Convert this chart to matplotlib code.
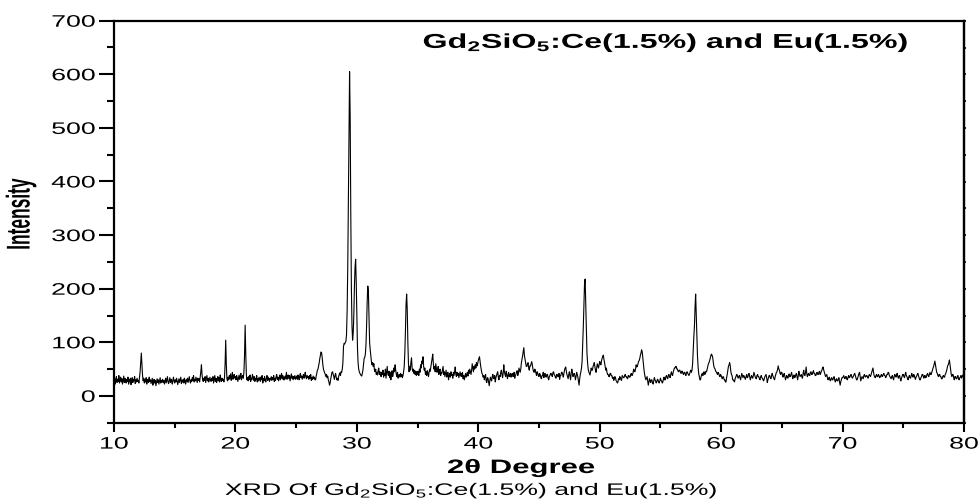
import numpy as np
import matplotlib
matplotlib.use("Agg")
import matplotlib.pyplot as plt
from matplotlib.patheffects import AbstractPathEffect
from matplotlib.transforms import Affine2D
from matplotlib.ticker import MultipleLocator, FixedLocator

# ---------------- data ----------------
scan_step = 0.05       # degrees 2-theta between points
# intensity per whole degree of 2-theta, points every 0.05 degree
intensity_by_degree = {
    10: [28, 34, 22, 30, 36, 25, 31, 27, 38, 24, 30, 35, 26, 32, 22, 29, 37, 25, 33, 28],
    11: [24, 31, 27, 35, 22, 30, 26, 33, 21, 29, 34, 25, 31, 28, 36, 23, 30, 26, 33, 27],
    12: [29, 24, 35, 45, 62, 80, 58, 38, 28, 33, 24, 30, 26, 34, 22, 29, 31, 25, 35, 27],
    13: [30, 23, 28, 33, 20, 27, 31, 24, 29, 19, 26, 32, 25, 30, 22, 28, 34, 24, 29, 26],
    14: [31, 25, 29, 22, 27, 33, 24, 30, 36, 26, 23, 29, 34, 25, 31, 28, 22, 30, 35, 27],
    15: [24, 30, 26, 33, 28, 21, 27, 32, 25, 30, 35, 23, 29, 26, 31, 24, 33, 28, 22, 30],
    16: [27, 33, 25, 31, 36, 28, 24, 30, 27, 34, 29, 38, 26, 31, 28, 35, 30, 25, 33, 29],
    17: [32, 26, 35, 45, 58, 40, 30, 27, 33, 29, 36, 25, 31, 38, 28, 33, 26, 30, 35, 29],
    18: [27, 33, 29, 36, 24, 31, 38, 27, 33, 25, 30, 36, 28, 34, 26, 39, 30, 27, 33, 29],
    19: [31, 26, 34, 60, 104, 58, 32, 28, 35, 30, 38, 33, 41, 29, 35, 44, 31, 36, 40, 33],
    20: [36, 30, 38, 34, 27, 33, 39, 31, 36, 42, 30, 35, 38, 33, 45, 75, 132, 80, 40, 30],
    21: [34, 28, 36, 31, 39, 27, 33, 30, 40, 35, 29, 36, 27, 33, 30, 38, 26, 32, 28, 35],
    22: [31, 27, 35, 30, 38, 24, 32, 28, 36, 30, 26, 33, 38, 29, 35, 31, 27, 33, 30, 36],
    23: [29, 34, 31, 38, 27, 33, 29, 36, 40, 31, 35, 28, 33, 39, 30, 36, 42, 32, 38, 30],
    24: [35, 30, 37, 33, 44, 31, 36, 39, 32, 38, 28, 35, 41, 33, 37, 30, 36, 32, 38, 31],
    25: [34, 37, 31, 39, 35, 30, 38, 42, 34, 37, 31, 36, 40, 33, 38, 44, 35, 32, 38, 34],
    26: [36, 31, 38, 33, 40, 29, 34, 31, 37, 32, 35, 30, 30, 37, 42, 48, 50, 56, 62, 70],
    27: [76, 82, 80, 70, 58, 50, 46, 43, 40, 36, 40, 34, 37, 30, 26, 20, 24, 32, 38, 44],
    28: [45, 40, 36, 31, 38, 42, 35, 30, 33, 29, 36, 40, 43, 38, 45, 44, 50, 62, 92, 98],
    29: [97, 100, 102, 115, 160, 240, 350, 480, 605, 520, 340, 200, 130, 104, 118, 150, 205, 240, 255, 210],
    30: [150, 90, 62, 50, 45, 42, 40, 38, 37, 42, 48, 60, 70, 72, 78, 95, 130, 175, 205, 195],
    31: [150, 100, 86, 75, 64, 58, 62, 55, 60, 48, 45, 50, 40, 44, 39, 47, 52, 40, 45, 38],
    32: [36, 44, 40, 48, 35, 42, 38, 50, 33, 45, 55, 41, 38, 46, 34, 44, 30, 40, 47, 36],
    33: [42, 52, 45, 58, 48, 40, 36, 44, 33, 38, 40, 35, 42, 36, 40, 34, 38, 45, 55, 80],
    34: [120, 170, 190, 160, 100, 60, 45, 55, 48, 62, 71, 52, 46, 50, 42, 48, 40, 46, 38, 45],
    35: [40, 46, 38, 50, 44, 58, 52, 65, 60, 73, 55, 48, 52, 40, 45, 38, 47, 42, 36, 44],
    36: [50, 46, 55, 62, 70, 78, 60, 50, 55, 45, 60, 52, 44, 48, 55, 40, 46, 50, 38, 44],
    37: [42, 48, 55, 40, 45, 36, 42, 48, 35, 40, 44, 30, 38, 42, 35, 45, 38, 40, 33, 44],
    38: [38, 45, 54, 40, 36, 44, 38, 42, 34, 40, 45, 37, 42, 36, 44, 32, 38, 30, 36, 42],
    39: [35, 40, 44, 37, 48, 42, 50, 45, 40, 48, 60, 52, 45, 55, 50, 58, 52, 62, 56, 60],
    40: [66, 70, 73, 64, 55, 48, 42, 40, 35, 38, 30, 36, 40, 28, 25, 34, 33, 26, 19, 28],
    41: [35, 30, 28, 36, 40, 33, 32, 38, 26, 34, 38, 42, 45, 35, 30, 38, 36, 44, 48, 40],
    42: [34, 42, 58, 45, 40, 36, 46, 40, 32, 38, 44, 36, 38, 42, 35, 40, 42, 36, 37, 44],
    43: [33, 38, 40, 45, 47, 38, 42, 52, 48, 44, 50, 62, 68, 75, 82, 90, 75, 68, 60, 55],
    44: [55, 60, 62, 52, 48, 56, 56, 60, 64, 58, 50, 46, 44, 50, 48, 42, 38, 45, 42, 38],
    45: [36, 42, 40, 34, 32, 38, 38, 44, 34, 40, 42, 36, 35, 40, 40, 33, 30, 36, 38, 42],
    46: [42, 38, 36, 44, 45, 40, 38, 35, 33, 40, 40, 36, 36, 42, 31, 38, 38, 44, 44, 40],
    47: [35, 42, 48, 52, 54, 46, 40, 36, 32, 40, 45, 38, 30, 42, 50, 44, 36, 40, 42, 38],
    48: [30, 36, 44, 40, 35, 28, 20, 32, 40, 45, 52, 65, 95, 130, 170, 210, 218, 170, 120, 80],
    49: [62, 50, 45, 42, 39, 46, 52, 48, 48, 55, 58, 62, 55, 48, 44, 52, 60, 56, 52, 58],
    50: [64, 60, 58, 66, 70, 74, 76, 68, 62, 55, 48, 52, 44, 40, 40, 36, 36, 42, 42, 38],
    51: [38, 33, 35, 29, 31, 36, 34, 28, 27, 24, 26, 32, 30, 36, 34, 30, 29, 38, 36, 34],
    52: [34, 38, 40, 36, 36, 33, 32, 38, 38, 35, 35, 40, 42, 38, 39, 44, 50, 46, 45, 50],
    53: [58, 54, 55, 60, 64, 66, 70, 76, 80, 86, 82, 70, 56, 48, 40, 34, 30, 33, 36, 28],
    54: [20, 26, 32, 28, 25, 30, 30, 24, 22, 28, 34, 30, 28, 24, 26, 31, 30, 26, 24, 28],
    55: [33, 29, 28, 24, 26, 32, 35, 30, 30, 36, 38, 34, 32, 38, 40, 36, 34, 40, 45, 40],
    56: [38, 44, 48, 52, 52, 55, 55, 50, 50, 46, 45, 48, 48, 44, 42, 46, 46, 42, 40, 44],
    57: [44, 40, 38, 44, 45, 42, 40, 38, 41, 45, 48, 44, 48, 60, 85, 110, 130, 165, 190, 150],
    58: [110, 75, 55, 42, 36, 30, 30, 36, 40, 42, 38, 44, 45, 40, 42, 46, 45, 50, 55, 60],
    59: [62, 66, 70, 75, 78, 76, 72, 64, 55, 52, 50, 46, 45, 42, 40, 44, 42, 38, 36, 40],
    60: [38, 34, 32, 36, 35, 30, 30, 26, 26, 34, 40, 48, 55, 58, 62, 56, 45, 40, 38, 30],
    61: [30, 28, 26, 32, 35, 38, 40, 36, 33, 36, 38, 34, 30, 36, 42, 38, 34, 38, 37, 33],
    62: [31, 36, 40, 34, 35, 40, 42, 36, 30, 34, 38, 35, 33, 38, 44, 40, 36, 33, 32, 38],
    63: [40, 36, 36, 32, 30, 35, 38, 34, 33, 30, 28, 32, 36, 38, 40, 34, 25, 30, 34, 38],
    64: [38, 34, 32, 37, 42, 38, 35, 32, 30, 36, 40, 44, 45, 50, 56, 50, 48, 42, 40, 44],
    65: [44, 38, 35, 40, 42, 36, 30, 34, 38, 35, 33, 38, 41, 36, 36, 40, 44, 38, 32, 36],
    66: [39, 34, 35, 40, 42, 36, 30, 38, 46, 40, 36, 38, 40, 35, 33, 42, 48, 40, 38, 44],
    67: [54, 42, 36, 40, 42, 38, 38, 44, 45, 40, 40, 44, 47, 42, 42, 38, 38, 42, 44, 40],
    68: [40, 44, 46, 40, 42, 46, 48, 52, 54, 48, 44, 40, 36, 38, 40, 34, 30, 32, 35, 30],
    69: [28, 32, 34, 30, 30, 34, 36, 30, 26, 30, 32, 28, 28, 32, 34, 26, 20, 26, 30, 34],
    70: [34, 36, 38, 33, 32, 36, 36, 31, 30, 35, 38, 34, 35, 38, 40, 36, 33, 35, 37, 40],
    71: [42, 38, 34, 30, 30, 34, 38, 42, 44, 36, 28, 32, 36, 34, 32, 38, 40, 36, 35, 38],
    72: [38, 35, 33, 37, 40, 38, 36, 40, 44, 48, 52, 44, 38, 35, 34, 38, 40, 36, 36, 40],
    73: [38, 34, 35, 38, 40, 36, 37, 40, 42, 38, 38, 34, 36, 40, 40, 44, 43, 38, 36, 34],
    74: [32, 36, 38, 33, 30, 36, 40, 38, 35, 40, 42, 36, 33, 37, 38, 32, 28, 33, 36, 40],
    75: [40, 36, 34, 40, 44, 38, 36, 32, 30, 35, 38, 34, 33, 38, 42, 37, 35, 40, 39, 34],
    76: [31, 35, 37, 40, 42, 38, 34, 30, 30, 34, 36, 40, 40, 36, 33, 38, 38, 34, 35, 40],
    77: [42, 38, 36, 40, 44, 40, 40, 44, 48, 52, 55, 60, 65, 58, 50, 44, 42, 38, 36, 40],
    78: [40, 36, 36, 32, 32, 36, 38, 35, 35, 40, 42, 46, 50, 56, 58, 62, 67, 58, 48, 40],
    79: [36, 40, 40, 34, 30, 36, 36, 32, 32, 36, 38, 32, 30, 34, 35, 38, 33, 36, 39, 36],
    80: [36],
}
two_theta = []
intensity = []
for deg, vals in intensity_by_degree.items():
    for i, v in enumerate(vals):
        two_theta.append(round(deg + scan_step * i, 2))
        intensity.append(v)

x_ticks = [10, 20, 30, 40, 50, 60, 70, 80]
y_ticks = [0, 100, 200, 300, 400, 500, 600, 700]
title_text = "Gd$_\\mathbf{2}$SiO$_\\mathbf{5}$:Ce(1.5%) and Eu(1.5%)"
caption_text = "XRD Of Gd$_2$SiO$_5$:Ce(1.5%) and Eu(1.5%)"
x_label = "2\u03b8 Degree"
y_label = "Intensity"

# ---------------- style ----------------
plt.rcParams["font.family"] = ["Liberation Sans", "DejaVu Sans"]
plt.rcParams["mathtext.fontset"] = "custom"
plt.rcParams["mathtext.rm"] = "Liberation Sans"
plt.rcParams["mathtext.it"] = "Liberation Sans:italic"
plt.rcParams["mathtext.bf"] = "Liberation Sans:bold"

SX = 1.6  # the reference picture is horizontally stretched


class Stretch(AbstractPathEffect):
    """Draw text stretched horizontally about an anchor."""
    def __init__(self, sx=SX, anchor="center"):
        super().__init__()
        self.sx = sx
        self.anchor = anchor

    def draw_path(self, renderer, gc, tpath, affine, rgbFace=None):
        ext = tpath.get_extents(affine)
        if self.anchor == "left":
            cx = ext.x0
        elif self.anchor == "right":
            cx = ext.x1
        else:
            cx = 0.5 * (ext.x0 + ext.x1)
        t = affine + Affine2D().translate(-cx, 0).scale(self.sx, 1).translate(cx, 0)
        renderer.draw_path(gc, tpath, t, rgbFace)


W, H = 979, 501
fig = plt.figure(figsize=(W / 100, H / 100), dpi=100)
L, R, T, B = 114, 964, 20.7, 422.7
ax = fig.add_axes([L / W, 1 - B / H, (R - L) / W, (B - T) / H])

ax.plot(two_theta, intensity, color="black", lw=0.8)

ax.set_xlim(10, 80)
ax.set_ylim(-50, 700)
ax.xaxis.set_major_locator(FixedLocator(x_ticks))
ax.xaxis.set_minor_locator(MultipleLocator(5))
ax.yaxis.set_major_locator(FixedLocator(y_ticks))
ax.yaxis.set_minor_locator(MultipleLocator(50))

for sp in ax.spines.values():
    sp.set_linewidth(1.6)

ax.tick_params(axis="x", which="major", direction="out", length=6.5, width=1.5,
               labelsize=12, pad=3.5)
ax.tick_params(axis="x", which="minor", direction="out", length=3.5, width=1.5)
ax.tick_params(axis="y", which="major", direction="out", length=10.5, width=1.5,
               labelsize=12, pad=3)
ax.tick_params(axis="y", which="minor", direction="out", length=5, width=1.5)

sec = ax.secondary_yaxis("right")
sec.yaxis.set_major_locator(FixedLocator(y_ticks))
sec.yaxis.set_minor_locator(MultipleLocator(50))
sec.tick_params(which="both", direction="out", length=1.5, width=1.2, labelright=False)
sec.spines["right"].set_linewidth(1.6)

for lbl in ax.get_xticklabels():
    lbl.set_path_effects([Stretch(SX, "center")])
for lbl in ax.get_yticklabels():
    lbl.set_path_effects([Stretch(SX, "right")])

fig.text(423 / W, 1 - 48 / H, title_text, fontsize=14.5, fontweight="bold",
         ha="left", va="baseline",
         path_effects=[Stretch(SX, "left")])

fig.text(521 / W, 1 - 473 / H, x_label, fontsize=14, fontweight="bold",
         ha="center", va="baseline",
         path_effects=[Stretch(SX, "center")])

fig.text(471 / W, 1 - 495 / H, caption_text, fontsize=12,
         ha="center", va="baseline",
         path_effects=[Stretch(SX, "center")])

fig.text(21 / W, 1 - 214 / H, y_label, fontsize=12.5, fontweight="bold",
         rotation=90, ha="center", va="center",
         path_effects=[Stretch(1.9, "center")])

fig.savefig("out.png", dpi=100)
